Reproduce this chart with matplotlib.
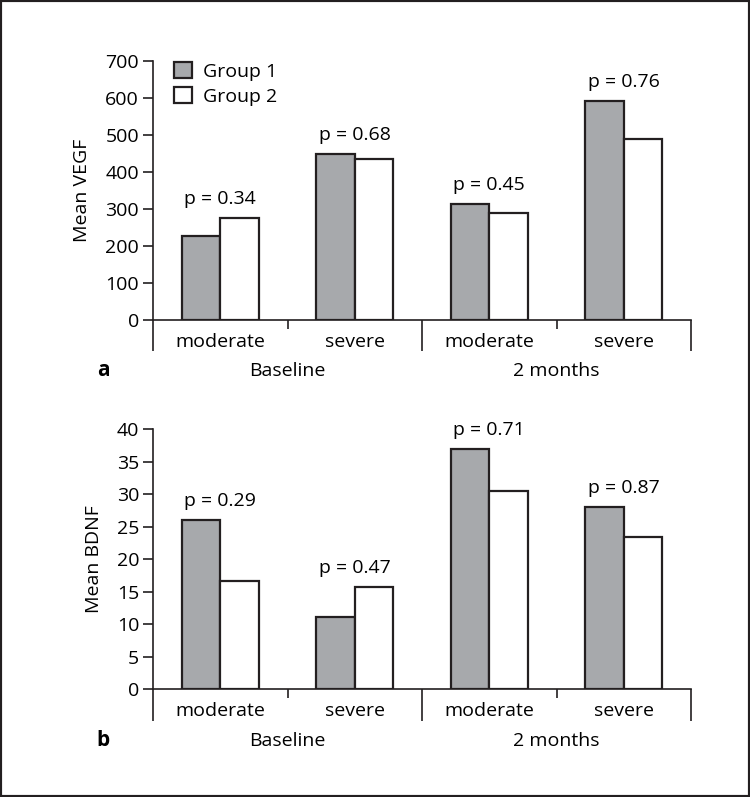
import matplotlib
matplotlib.use('Agg')
import numpy as np
import matplotlib.pyplot as plt
from matplotlib.patches import Rectangle

plt.rcParams['font.family'] = ['Open Sans', 'DejaVu Sans']
plt.rcParams['font.size'] = 14

# data
categories = ['moderate', 'severe', 'moderate', 'severe']
timepoints = ['Baseline', '2 months']
series_names = ['Group 1', 'Group 2']

vegf_group1 = [227, 448, 314, 592]
vegf_group2 = [276, 435, 290, 488]
vegf_pvals = ['p = 0.34', 'p = 0.68', 'p = 0.45', 'p = 0.76']

bdnf_group1 = [26.0, 11.2, 37.0, 28.0]
bdnf_group2 = [16.6, 15.8, 30.5, 23.4]
bdnf_pvals = ['p = 0.29', 'p = 0.47', 'p = 0.71', 'p = 0.87']

INK = '#231f20'
GREY = '#a7a9ac'

fig = plt.figure(figsize=(7.5, 7.97), dpi=100)
fig.patches.append(Rectangle((0, 0), 1, 1, transform=fig.transFigure,
                             fill=False, lw=3, edgecolor=INK))


def draw_panel(ax, g1, g2, pvals, ymax, ystep, ylabel, letter, legend=False):
    x = np.arange(len(categories))
    w = 0.286
    b1 = ax.bar(x - w / 2, g1, w, color=GREY, edgecolor=INK, lw=1.6,
                label=series_names[0], zorder=3)
    b2 = ax.bar(x + w / 2, g2, w, color='white', edgecolor=INK, lw=1.6,
                label=series_names[1], zorder=3)

    ax.set_xlim(-0.5, 3.5)
    ax.set_ylim(0, ymax)
    ax.set_yticks(np.arange(0, ymax + ystep / 2, ystep))
    ax.spines['top'].set_visible(False)
    ax.spines['right'].set_visible(False)
    for s in ('left', 'bottom'):
        ax.spines[s].set_color(INK)
        ax.spines[s].set_linewidth(1.2)
    ax.tick_params(axis='y', direction='out', length=7, width=1.2,
                   color=INK, pad=3)
    ax.set_xticks([])
    ax.set_xticks([0.5, 2.5], minor=True)
    ax.tick_params(axis='x', which='minor', direction='out', length=6.5,
                   width=1.2, color=INK)

    # group separators hanging below the axis
    xt = ax.get_xaxis_transform()
    for xs in (-0.5, 1.5, 3.5):
        ax.plot([xs, xs], [0, -0.12], transform=xt, color=INK, lw=1.2,
                clip_on=False, solid_capstyle='butt')

    for i, c in enumerate(categories):
        ax.text(i, -0.103, c, transform=xt, ha='center', va='baseline')
    for j, t in enumerate(timepoints):
        ax.text(2 * j + 0.5, -0.218, t, transform=xt, ha='center',
                va='baseline')
    ax.text(-0.87, -0.218, letter, transform=xt, ha='center', va='baseline',
            fontweight='bold', fontsize=15)

    for i, p in enumerate(pvals):
        top = max(g1[i], g2[i])
        ax.annotate(p, (i, top), xytext=(0, 10), textcoords='offset points',
                    ha='center', va='baseline')

    ax.set_ylabel(ylabel, labelpad=10)

    if legend:
        ax.legend(handles=[b1, b2], loc='upper left', frameon=False,
                  bbox_to_anchor=(0.025, 1.025), handlelength=0.9,
                  handleheight=0.9, handletextpad=0.6, labelspacing=0.3,
                  borderaxespad=0.0)


ax_top = fig.add_axes([153 / 750, 1 - 320 / 797, 538 / 750, 259 / 797])
draw_panel(ax_top, vegf_group1, vegf_group2, vegf_pvals, 700, 100,
           'Mean VEGF', 'a', legend=True)

ax_bot = fig.add_axes([153 / 750, 1 - 689.3 / 797, 538 / 750, 260 / 797])
draw_panel(ax_bot, bdnf_group1, bdnf_group2, bdnf_pvals, 40, 5,
           'Mean BDNF', 'b')

fig.savefig('out.png', dpi=100)
